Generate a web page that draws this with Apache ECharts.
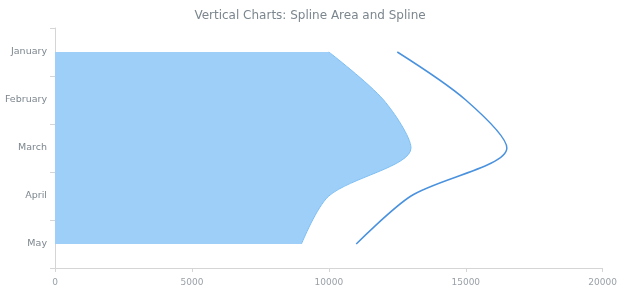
<!DOCTYPE html>
<html>
<head>
<meta charset="utf-8">
<script src="https://cdn.jsdelivr.net/npm/echarts@6/dist/echarts.min.js"></script>
<style>
  html, body { margin: 0; padding: 0; background: #fff; }
  #main { width: 620px; height: 300px; }
</style>
</head>
<body>
<div id="main"></div>
<script>
// 数据
const months = ['January', 'February', 'March', 'April', 'May']
const splineArea = [10000, 12000, 13000, 10000, 9000]
const spline = [12500, 15000, 16500, 13000, 11000]
const xTicks = [0, 5000, 10000, 15000, 20000]

const myChart = echarts.init(document.getElementById('main'))
const axisGray = '#d5d5d5'
const labelGray = '#7c868e'
const option = {
  animation: false,
  textStyle: { fontFamily: 'DejaVu Sans' },
  title: {
    text: 'Vertical Charts: Spline Area and Spline',
    left: 'center',
    top: 5,
    textStyle: { fontSize: 12, fontWeight: 'normal', color: labelGray, fontFamily: 'DejaVu Sans' }
  },
  grid: { left: 55, right: 15, top: 28, bottom: 32 },
  xAxis: {
    type: 'value',
    min: xTicks[0],
    max: xTicks[xTicks.length - 1],
    interval: xTicks[1] - xTicks[0],
    axisLine: { show: true, lineStyle: { color: axisGray } },
    axisTick: { show: true, length: 4, lineStyle: { color: axisGray } },
    axisLabel: { color: '#9aa1a8', fontSize: 9, margin: 10, formatter: v => String(v) },
    splitLine: { show: false }
  },
  yAxis: {
    type: 'category',
    inverse: true,
    data: months,
    boundaryGap: true,
    axisLine: { show: true, lineStyle: { color: axisGray } },
    axisTick: { show: true, length: 5, lineStyle: { color: axisGray } },
    axisLabel: { color: labelGray, fontSize: 9.5, margin: 8 },
    splitLine: { show: false }
  },
  series: [
    {
      name: 'Spline Area',
      type: 'line',
      smooth: 0.3,
      data: splineArea,
      symbol: 'none',
      lineStyle: { color: '#7dbff4', width: 1 },
      areaStyle: { color: '#9dcff8', opacity: 1 }
    },
    {
      name: 'Spline',
      type: 'line',
      smooth: 0.3,
      data: spline,
      symbol: 'none',
      lineStyle: { color: '#4b92de', width: 1.5 }
    }
  ]
}
myChart.setOption(option)
</script>
</body>
</html>
